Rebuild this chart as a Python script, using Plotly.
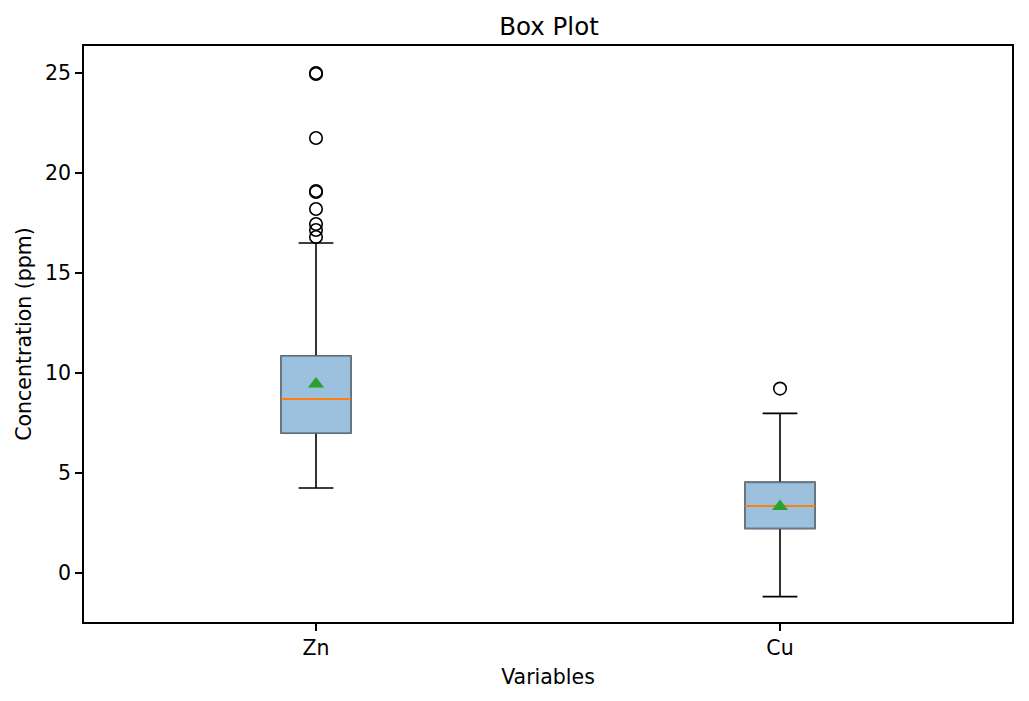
import plotly.graph_objects as go

categories = ["Zn", "Cu"]
positions = [1, 2]
q1 = [7.0, 2.23]
medians = [8.7, 3.35]
q3 = [10.85, 4.53]
lower_whisker = [4.25, -1.18]
upper_whisker = [16.5, 7.98]
means = [9.45, 3.32]
outliers_zn = [25.0, 24.95, 21.75, 19.1, 19.05, 18.2, 17.45, 17.15, 16.8]
outliers_cu = [9.22]
outliers = [outliers_zn, outliers_cu]

box_width = 0.15
fill_color = "#9bc1df"
edge_color = "#6d7a86"
font_family = "DejaVu Sans"

fig = go.Figure()

# whiskers + caps (black)
fig.add_trace(go.Box(
    x=positions, q1=q1, median=medians, q3=q3,
    lowerfence=lower_whisker, upperfence=upper_whisker,
    width=box_width, whiskerwidth=0.5,
    line=dict(color="black", width=1.6),
    fillcolor="rgba(0,0,0,0)", boxpoints=False,
    showlegend=False, hoverinfo="skip",
))
# box body (gray edge, blue fill)
fig.add_trace(go.Box(
    x=positions, q1=q1, median=medians, q3=q3,
    lowerfence=q1, upperfence=q3,
    width=box_width, whiskerwidth=0,
    line=dict(color=edge_color, width=1.6),
    fillcolor=fill_color, boxpoints=False,
    showlegend=False, hoverinfo="skip",
))
# medians
for p, m in zip(positions, medians):
    fig.add_trace(go.Scatter(
        x=[p - box_width / 2, p + box_width / 2], y=[m, m], mode="lines",
        line=dict(color="#ff7f0e", width=2), showlegend=False, hoverinfo="skip",
    ))
# means
fig.add_trace(go.Scatter(
    x=positions, y=means, mode="markers",
    marker=dict(symbol="triangle-up", size=14, color="#2ca02c"),
    showlegend=False,
))
# outliers
for p, outs in zip(positions, outliers):
    fig.add_trace(go.Scatter(
        x=[p] * len(outs), y=outs, mode="markers",
        marker=dict(symbol="circle-open", size=12.5, color="black", line=dict(width=1.6)),
        showlegend=False,
    ))

fig.update_layout(
    width=1013, height=685,
    margin=dict(l=76, r=7, t=38, b=71),
    plot_bgcolor="white", paper_bgcolor="white",
    font=dict(family=font_family, size=20.5, color="black"),
    boxmode="overlay",
    title=dict(text="Box Plot", x=(549 - 8) / 1013, xanchor="center", y=1 - (26 - 8) / 685,
               yanchor="middle", yref="container", font=dict(size=24.5)),
)
fig.update_xaxes(
    range=[0.5, 2.5], tickmode="array", tickvals=positions, ticktext=categories,
    tickfont=dict(size=20.5),
    showline=True, mirror=True, linecolor="black", linewidth=1.6,
    ticks="outside", ticklen=7, tickwidth=1.6, tickcolor="black",
    showgrid=False, zeroline=False,
    title=dict(text="Variables", standoff=10, font=dict(size=20.5)),
)
fig.update_yaxes(
    range=[-2.45, 26.35], tickvals=[0, 5, 10, 15, 20, 25],
    tickfont=dict(size=20.5),
    showline=True, mirror=True, linecolor="black", linewidth=1.6,
    ticks="outside", ticklen=7, tickwidth=1.6, tickcolor="black",
    showgrid=False, zeroline=False,
    title=dict(text="Concentration (ppm)", standoff=8, font=dict(size=20.5)),
)

fig.write_html("out.html")
